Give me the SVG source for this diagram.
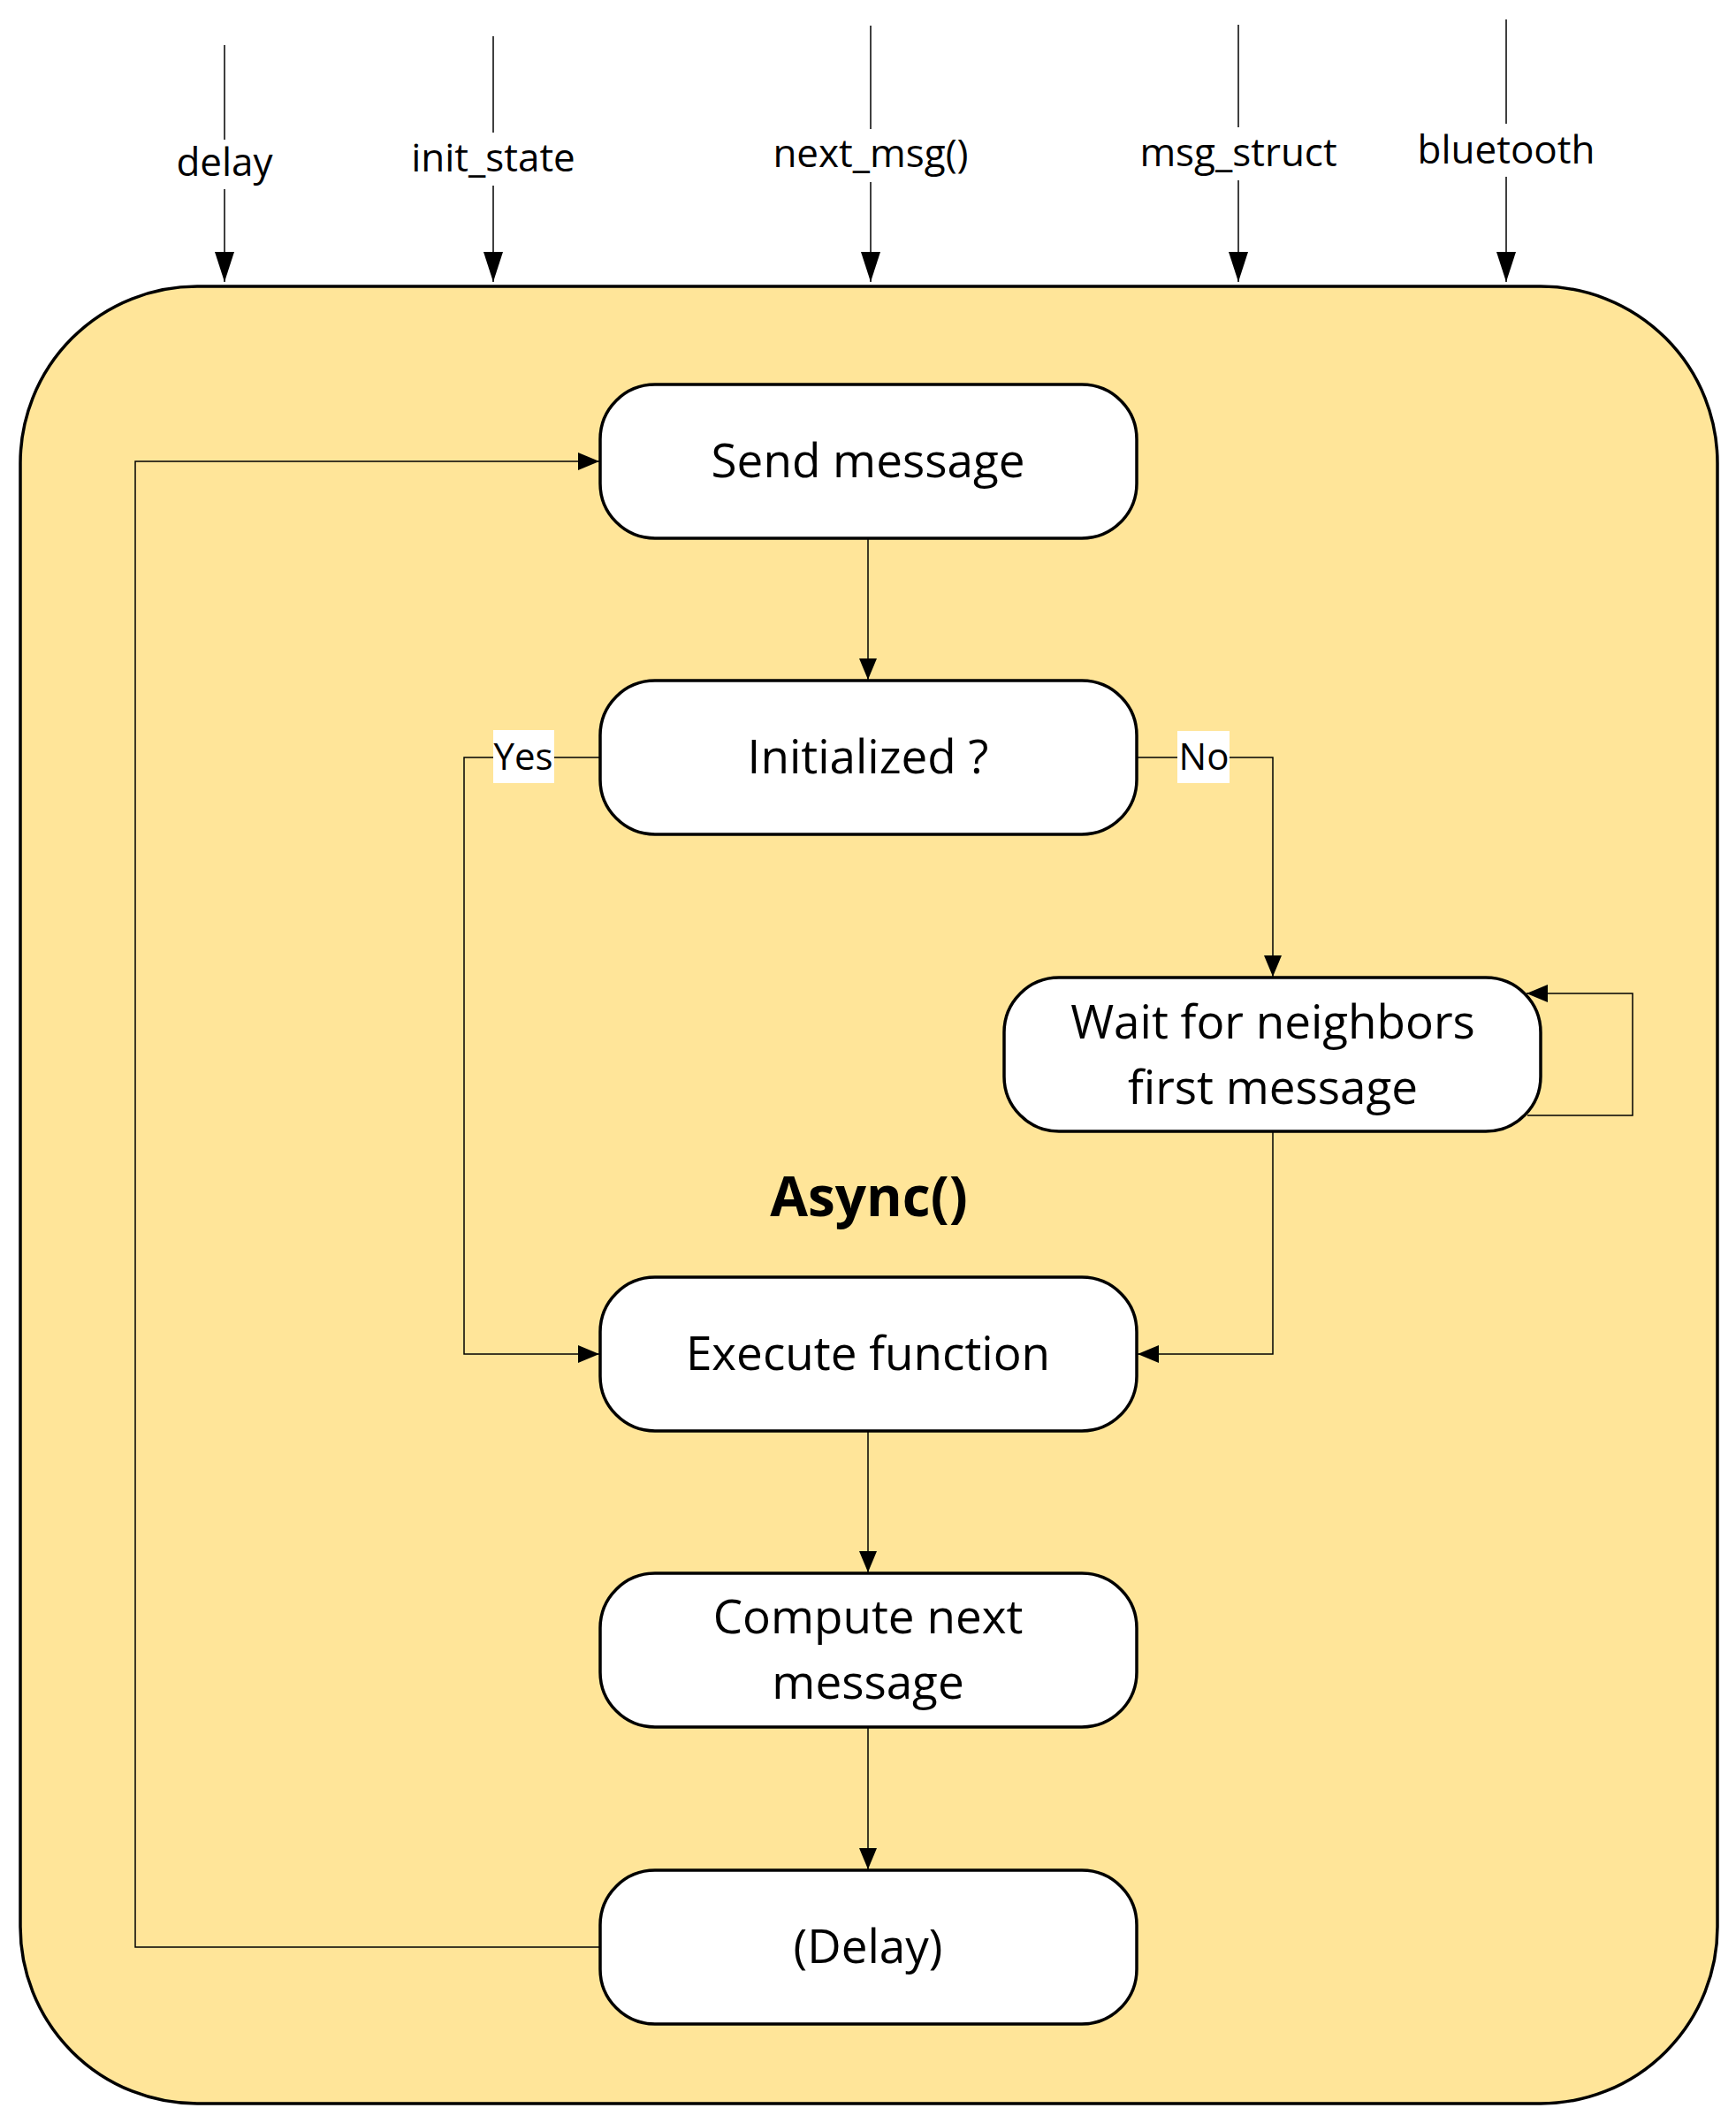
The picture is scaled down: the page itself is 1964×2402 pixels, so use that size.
<svg xmlns="http://www.w3.org/2000/svg" width="1964" height="2402" viewBox="0 0 1964 2402">
<style>
.bg{fill:#FFE599;stroke:#000;stroke-width:3.5}
.node rect{fill:#fff;stroke:#000;stroke-width:3.5}
.lbl{font-family:"Open Sans","Noto Sans",sans-serif;font-size:53px;fill:#000;text-anchor:middle}
.top{font-family:"Open Sans","Noto Sans",sans-serif;font-size:44px;fill:#000;text-anchor:middle}
.yn{font-family:"Open Sans","Noto Sans",sans-serif;font-size:42px;fill:#000;text-anchor:middle}
.title{font-family:"Open Sans","Noto Sans",sans-serif;font-size:62px;font-weight:bold;fill:#000;text-anchor:middle}
.c{fill:none;stroke:#000;stroke-width:1.5}
</style>
<defs>
<marker id="big" markerUnits="userSpaceOnUse" markerWidth="34" markerHeight="24" refX="34" refY="12" orient="auto">
<path d="M0,1 L34,12 L0,23 Z" fill="#000"/>
</marker>
<marker id="sm" markerUnits="userSpaceOnUse" markerWidth="24" markerHeight="22" refX="24" refY="11" orient="auto">
<path d="M0,1 L24,11 L0,21 Z" fill="#000"/>
</marker>
</defs>
<rect width="1964" height="2402" fill="#fff"/>
<g id="container">
<rect class="bg" x="23" y="324" width="1920" height="2056" rx="200" ry="200"/>
<text class="title" x="983" y="1376">Async()</text>
</g>
<g id="connectors">
<line class="c" x1="254" y1="51" x2="254" y2="319" marker-end="url(#big)"/>
<line class="c" x1="558" y1="41" x2="558" y2="319" marker-end="url(#big)"/>
<line class="c" x1="985" y1="29" x2="985" y2="319" marker-end="url(#big)"/>
<line class="c" x1="1401" y1="28" x2="1401" y2="319" marker-end="url(#big)"/>
<line class="c" x1="1704" y1="22" x2="1704" y2="319" marker-end="url(#big)"/>
<line class="c" x1="982" y1="609" x2="982" y2="769" marker-end="url(#sm)"/>
<polyline class="c" points="679,857 525,857 525,1532 678,1532" marker-end="url(#sm)"/>
<polyline class="c" points="1286,857 1440,857 1440,1105" marker-end="url(#sm)"/>
<polyline class="c" points="1728,1262 1847,1262 1847,1124 1727,1124" marker-end="url(#sm)"/>
<polyline class="c" points="1440,1280 1440,1532 1287,1532" marker-end="url(#sm)"/>
<line class="c" x1="982" y1="1619" x2="982" y2="1779" marker-end="url(#sm)"/>
<line class="c" x1="982" y1="1954" x2="982" y2="2115" marker-end="url(#sm)"/>
<polyline class="c" points="679,2203 153,2203 153,522 678,522" marker-end="url(#sm)"/>
</g>
<g id="inputs">
<rect x="196" y="158" width="116" height="56" fill="#fff"/>
<text class="top" x="254" y="199">delay</text>
<rect x="456" y="150" width="204" height="60" fill="#fff"/>
<text class="top" x="558" y="194">init_state</text>
<rect x="868" y="146" width="234" height="60" fill="#fff"/>
<text class="top" x="985" y="189">next_msg()</text>
<rect x="1284" y="144" width="234" height="60" fill="#fff"/>
<text class="top" x="1401" y="188">msg_struct</text>
<rect x="1598" y="140" width="212" height="60" fill="#fff"/>
<text class="top" x="1704" y="185">bluetooth</text>
</g>
<g id="labels">
<rect x="558" y="826" width="69" height="60" fill="#fff"/>
<text class="yn" x="592" y="871">Yes</text>
<rect x="1332" y="827" width="59" height="59" fill="#fff"/>
<text class="yn" x="1362" y="871">No</text>
</g>
<g id="send" class="node">
<rect x="679" y="435" width="607" height="174" rx="62"/>
<text class="lbl" x="982" y="540">Send message</text>
</g>
<g id="init" class="node">
<rect x="679" y="770" width="607" height="174" rx="62"/>
<text class="lbl" x="982" y="875">Initialized ?</text>
</g>
<g id="wait" class="node">
<rect x="1136" y="1106" width="607" height="174" rx="62"/>
<text class="lbl" x="1440" y="1175">Wait for neighbors</text>
<text class="lbl" x="1440" y="1249">first message</text>
</g>
<g id="exec" class="node">
<rect x="679" y="1445" width="607" height="174" rx="62"/>
<text class="lbl" x="982" y="1550">Execute function</text>
</g>
<g id="compute" class="node">
<rect x="679" y="1780" width="607" height="174" rx="62"/>
<text class="lbl" x="982" y="1848">Compute next</text>
<text class="lbl" x="982" y="1922">message</text>
</g>
<g id="delay" class="node">
<rect x="679" y="2116" width="607" height="174" rx="62"/>
<text class="lbl" x="982" y="2221">(Delay)</text>
</g>
</svg>
